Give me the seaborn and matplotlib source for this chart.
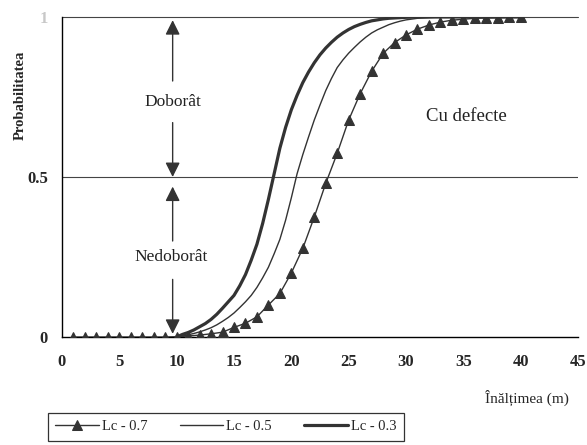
#!/usr/bin/env python3
"""
Probabilitatea de doborâre vs înălțimea arborelui
"""

import pandas as pd
import matplotlib.pyplot as plt
import seaborn as sns

# Lc - 0.7 (triangles), inaltimea 1..40 m
x_tri = list(range(1, 41))
lc07 = [0, 0, 0, 0, 0, 0, 0, 0, 0, 0.001,
        0.003, 0.006, 0.01, 0.015, 0.03, 0.043, 0.063, 0.10, 0.136, 0.20,
        0.277, 0.375, 0.48, 0.574, 0.678, 0.76, 0.83, 0.886, 0.92, 0.944,
        0.962, 0.975, 0.984, 0.99, 0.993, 0.996, 0.997, 0.998, 0.999, 1.0]

# smooth curves, read every half metre on the steep part
x_line = [10, 10.5, 11, 11.5, 12, 12.5, 13, 13.5, 14, 14.5,
          15, 15.5, 16, 16.5, 17, 17.5, 18, 18.5, 19, 19.5,
          20, 20.5, 21, 21.5, 22, 22.5, 23, 23.5, 24, 24.5,
          25, 25.5, 26, 26.5, 27, 27.5, 28, 28.5, 29, 29.5,
          30, 31, 32, 33, 40]

# Lc - 0.5 (thin line)
lc05 = [0.0, 0.003, 0.007, 0.011, 0.016, 0.022, 0.029, 0.038, 0.049, 0.061,
        0.075, 0.092, 0.11, 0.13, 0.155, 0.185, 0.218, 0.26, 0.305, 0.365,
        0.435, 0.51, 0.57, 0.625, 0.678, 0.725, 0.77, 0.808, 0.842, 0.866,
        0.887, 0.905, 0.922, 0.937, 0.95, 0.96, 0.968, 0.976, 0.982, 0.987,
        0.991, 0.996, 0.998, 1.0, 1.0]

# Lc - 0.3 (thick line)
lc03 = [0.0, 0.008, 0.014, 0.022, 0.032, 0.042, 0.055, 0.071, 0.09, 0.11,
        0.13, 0.16, 0.195, 0.24, 0.29, 0.355, 0.43, 0.51, 0.59, 0.655,
        0.71, 0.755, 0.795, 0.828, 0.857, 0.882, 0.903, 0.921, 0.937, 0.95,
        0.961, 0.97, 0.977, 0.983, 0.988, 0.991, 0.994, 0.996, 0.997, 0.998,
        0.999, 1.0, 1.0, 1.0, 1.0]

x_ticks = [0, 5, 10, 15, 20, 25, 30, 35, 40, 45]
y_ticks = [0, 0.5, 1]
y_tick_labels = ['0', '0.5', '1']

sns.set_style('white')
plt.rcParams['font.family'] = ['Liberation Serif', 'DejaVu Serif']

df_tri = pd.DataFrame({'h': x_tri, 'p': lc07})
df_line = pd.DataFrame({'h': x_line, 'p05': lc05, 'p03': lc03})

fig = plt.figure(figsize=(5.87, 4.45), dpi=100)
ax = fig.add_axes([62 / 587, 1 - 337 / 445, 516 / 587, 320 / 445])

ink = '#333333'

# reference lines
ax.axhline(0.5, color='#444444', linewidth=0.8, zorder=1)
ax.axhline(1.0, color='#444444', linewidth=0.8, zorder=1, clip_on=False)

sns.lineplot(data=df_tri, x='h', y='p', ax=ax, color=ink, linewidth=1.0,
             marker='^', markersize=7, markeredgecolor=ink, label='Lc - 0.7', zorder=3)
sns.lineplot(data=df_line, x='h', y='p05', ax=ax, color=ink, linewidth=1.0,
             label='Lc - 0.5', zorder=3)
sns.lineplot(data=df_line, x='h', y='p03', ax=ax, color=ink, linewidth=2.3,
             label='Lc - 0.3', zorder=3)

ax.set_xlim(0, 45)
ax.set_ylim(0, 1)
ax.set_xticks(x_ticks)
ax.set_yticks(y_ticks)
ax.set_yticklabels(y_tick_labels)
ax.get_yticklabels()[-1].set_color('#c8c8c8')
ax.tick_params(axis='x', direction='out', length=5, width=1, color='black',
               labelsize=12, pad=7)
ax.tick_params(axis='y', direction='out', length=5, width=1, color='black',
               labelsize=12, pad=5)
for lbl in ax.get_xticklabels() + ax.get_yticklabels():
    lbl.set_fontweight('bold')

for side in ['top', 'right']:
    ax.spines[side].set_visible(False)
for side in ['left', 'bottom']:
    ax.spines[side].set_color('black')
    ax.spines[side].set_linewidth(1.0)

ax.set_xlabel('')
ax.set_ylabel('')
fig.text(20 / 587, 1 - 95 / 445, 'Probabilitatea', fontsize=10.5, fontweight='bold',
         rotation=90, ha='center', va='center')
fig.text(527 / 587, 1 - 398 / 445, 'Înălțimea (m)', fontsize=11, ha='center', va='center')

# double arrows
arr = dict(arrowstyle='-|>', color=ink, linewidth=1.0, mutation_scale=22, shrinkA=0, shrinkB=0)
ax_x = 9.65
ax.annotate('', xy=(ax_x, 0.99), xytext=(ax_x, 0.80), arrowprops=arr)
ax.annotate('', xy=(ax_x, 0.50), xytext=(ax_x, 0.67), arrowprops=arr)
ax.annotate('', xy=(ax_x, 0.47), xytext=(ax_x, 0.30), arrowprops=arr)
ax.annotate('', xy=(ax_x, 0.01), xytext=(ax_x, 0.18), arrowprops=arr)
ax.text(ax_x, 0.735, 'Doborât', ha='center', va='center', fontsize=12.5, color='#222222')
ax.text(ax_x - 0.1, 0.25, 'Nedoborât', ha='center', va='center', fontsize=12.5, color='#222222')
ax.text(35.3, 0.69, 'Cu defecte', ha='center', va='center', fontsize=13.5, color='#222222')

ax.get_legend().remove()
handles, labels = ax.get_legend_handles_labels()
leg = fig.legend(handles, labels, loc='upper left', bbox_to_anchor=(48 / 587, 1 - 413 / 445),
                 ncol=3, frameon=True, fancybox=False, edgecolor='black', fontsize=10.5,
                 handlelength=3.0, handletextpad=0.2, columnspacing=2.2, borderpad=0.5,
                 borderaxespad=0)
leg.get_frame().set_linewidth(0.9)

plt.savefig('out.png', dpi=100)
plt.close()
